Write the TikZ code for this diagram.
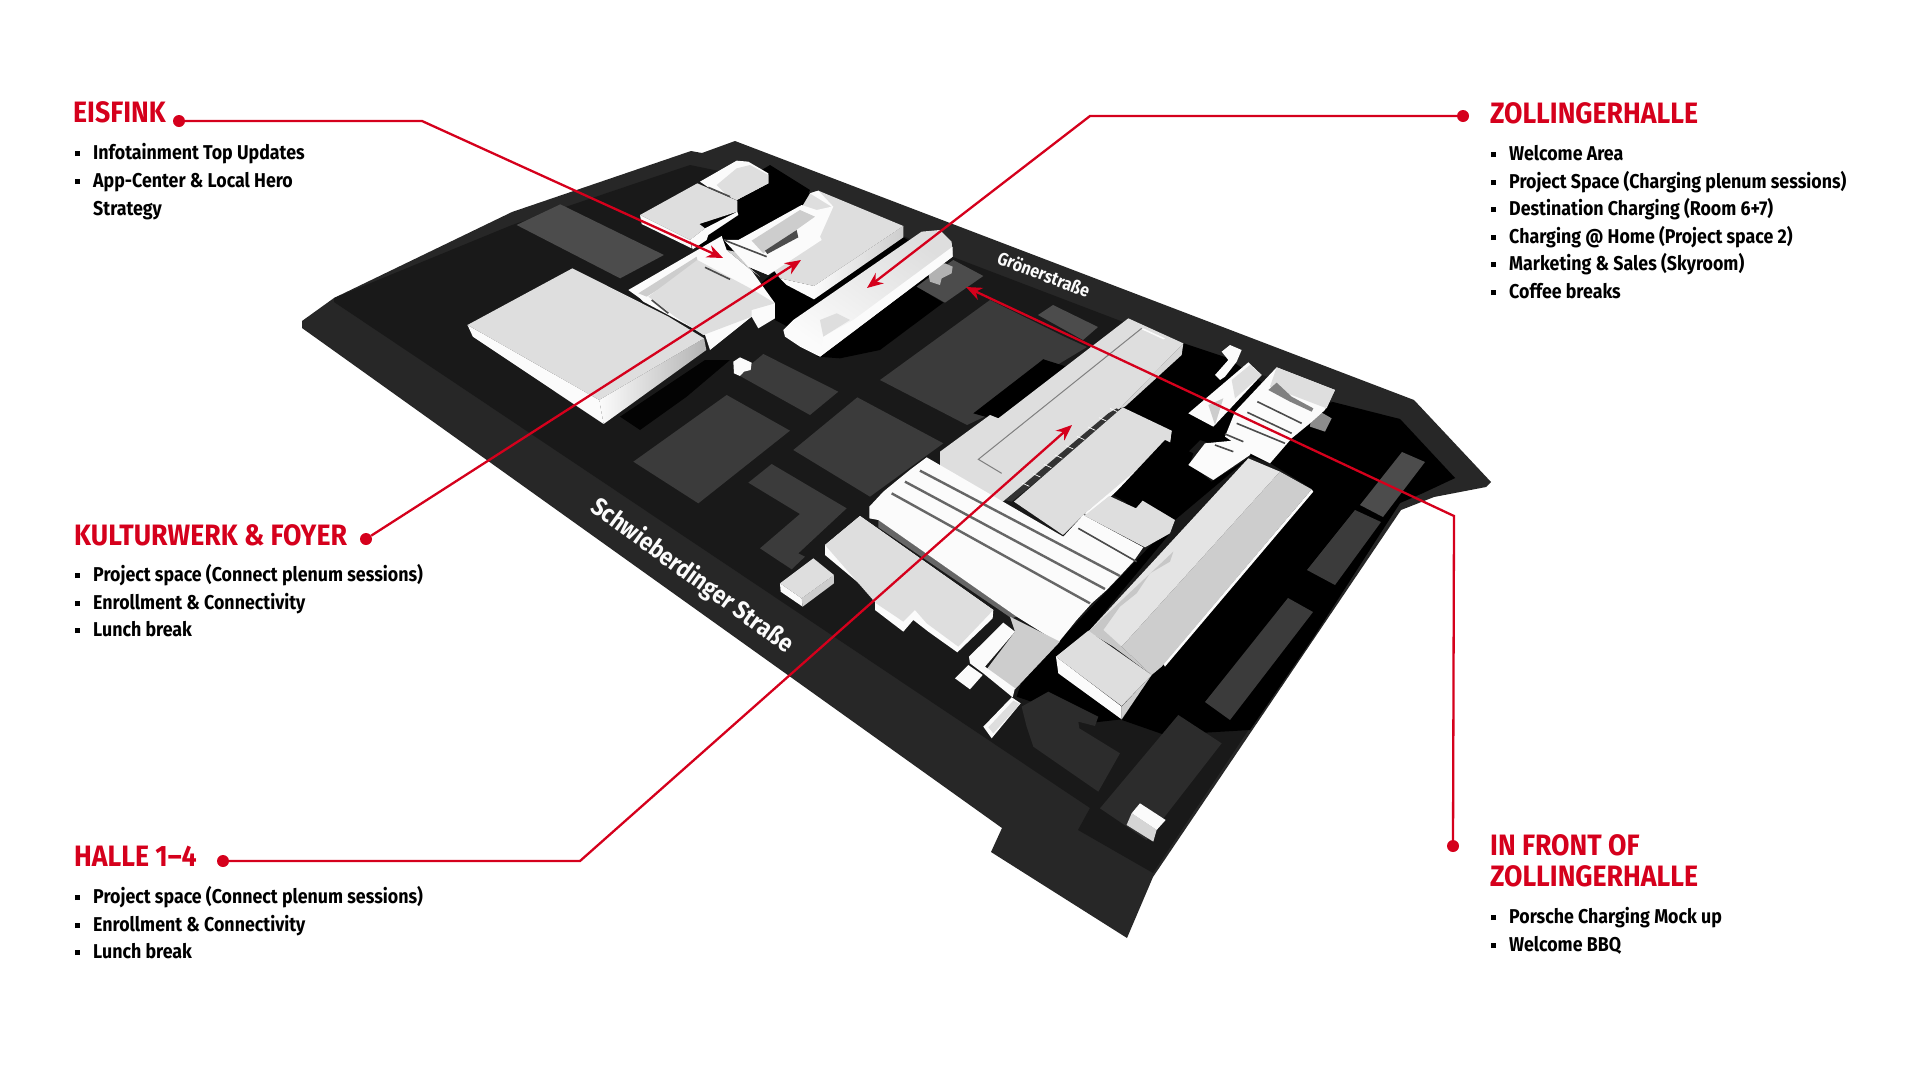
\documentclass[tikz,border=0pt]{standalone}
\usepackage{fontspec}
\setmainfont{Fira Sans}[FakeStretch=0.89]
\newfontfamily\headfont{Fira Sans}[FakeStretch=0.905]
\usetikzlibrary{arrows.meta}

\definecolor{signal}{HTML}{D5001C}
\definecolor{board}{HTML}{272727}
\definecolor{deck}{HTML}{191919}
\definecolor{lot}{HTML}{3B3B3B}
\definecolor{lotpale}{HTML}{4C4C4C}
\definecolor{lotdim}{HTML}{2C2C2C}
\definecolor{roof}{HTML}{DEDEDE}
\definecolor{roofdim}{HTML}{CDCDCD}
\definecolor{wall}{HTML}{FBFBFB}

\tikzstyle{lot}=[fill=lot]
\tikzstyle{rib}=[draw=black!60,line width=2.4pt]
\tikzstyle{ribthin}=[draw=black!70,line width=1.6pt]
\tikzstyle{wire}=[draw=signal,line width=2.3pt,-{Stealth[length=16pt,width=13pt]}]
\tikzstyle{dot}=[circle,fill=signal,inner sep=0pt,minimum size=12pt]
\tikzstyle{headline}=[anchor=base west,inner sep=0pt,text=signal,font=\headfont\bfseries\fontsize{29.5}{30}\selectfont]
\tikzstyle{entry}=[anchor=base west,inner sep=0pt,text=black,font=\bfseries\fontsize{20}{20}\selectfont]
\tikzstyle{street}=[text=wall,font=\bfseries\fontsize{25}{25}\selectfont]

\def\bul{\makebox[18pt][l]{\rule[3pt]{5pt}{5pt}}}
\def\nobul{\makebox[18pt][l]{}}

\begin{document}
\begin{tikzpicture}[x=1pt,y=-1pt]
    \useasboundingbox (0,0) rectangle (1920,1080);

    % the board
    \fill[board] (302,321) -- (334,298) -- (512,212) -- (691,151) -- (702,153) -- (735,141) -- (1414,400) -- (1491,482) -- (1486,487) -- (1434,497) -- (1401,510) -- (1153,877) -- (1127,938) -- (991,852) -- (1002,828) -- (302,328) -- cycle;
    \fill[deck] (334,302) -- (334,298) -- (512,225) -- (690,165) -- (777,183) -- (953,257) -- (1333,402) -- (1370,415) -- (1400,419) -- (1455,478) -- (1423,493) -- (1400,503) -- (1153,873) -- (1078,830) -- (1090,808) -- cycle;

    % shadows, in full coordinates
    \fill[black] (1183,343) -- (1228,358) -- (1300,410) -- (1333,402) -- (1400,419) -- (1455,478) -- (1423,493) -- (1400,503) -- (1315,635) -- (1250,730) -- (1165,735) -- (1122,720) -- (1155,670) -- (1312,489) -- (1270,463) -- (1200,440) -- (1120,520) -- cycle;
    \fill[black] (700,207) -- (770,165) -- (810,190) -- (780,250) -- (700,260) -- cycle;

    % cluster at the top
    \begin{scope}[shift={(620,150)},scale=0.3333]
        \fill[black] (210,290) -- (350,190) -- (445,100) -- (570,130) -- (480,350) -- (355,270) -- cycle;
        \fill[black] (400,420) -- (480,350) -- (582,448) -- (850,262) -- (900,290) -- (560,560) -- (465,510) -- cycle;
        \fill[black] (590,620) -- (998,320) -- (890,410) -- (970,458) -- (780,600) -- (660,625) -- cycle;
        \fill[lotpale] (890,410) -- (1000,330) -- (1090,378) -- (975,458) -- cycle;
        \fill[black!30] (925,370) -- (945,345) -- (975,340) -- (998,350) -- (995,370) -- (965,385) -- (960,405) -- (930,395) -- cycle;
        % block with the courtyard
        \fill[wall] (25,420) -- (305,258) -- (320,300) -- (395,362) -- (465,460) -- (465,505) -- (415,535) -- (395,500) -- (270,600) -- (255,555) -- (145,495) -- (70,455) -- (60,445) -- cycle;
        \fill[roofdim] (55,430) -- (230,320) -- (235,345) -- (80,440) -- cycle;
        \fill[roof] (85,440) -- (232,330) -- (400,420) -- (465,460) -- (395,480) -- (395,500) -- (250,555) -- (165,500) -- cycle;
        \draw[ribthin] (255,352) -- (330,388);
        \draw[ribthin] (95,450) -- (145,490);
        \fill[roofdim] (320,300) -- (345,305) -- (385,350) -- (420,380) -- (395,362) -- cycle;
        % block at the top
        \fill[wall] (60,195) -- (210,270) -- (215,295) -- (65,222) -- cycle;
        \fill[wall] (210,270) -- (255,235) -- (352,185) -- (355,195) -- (265,255) -- (260,270) -- (218,298) -- cycle;
        \fill[roof] (60,195) -- (232,100) -- (352,152) -- (352,185) -- (238,222) -- (255,235) -- (210,270) -- cycle;
        \fill[wall] (240,95) -- (350,32) -- (385,35) -- (445,70) -- (445,100) -- (350,150) -- (265,112) -- cycle;
        \fill[roof] (290,105) -- (350,55) -- (390,45) -- (445,75) -- (445,100) -- (350,150) -- (320,135) -- cycle;
        \draw[ribthin] (265,112) -- (330,140);
        % block with the wing
        \fill[wall] (480,385) -- (582,408) -- (582,448) -- (500,405) -- cycle;
        \shade[left color=wall,right color=roofdim] (582,408) -- (850,228) -- (850,262) -- (582,448) -- cycle;
        \fill[roof] (445,340) -- (570,130) -- (595,122) -- (850,228) -- (582,408) -- (480,385) -- cycle;
        \fill[wall] (355,270) -- (545,165) -- (590,180) -- (635,170) -- (570,130) -- (595,122) -- (640,170) -- (600,260) -- (605,270) -- (445,375) -- (385,350) -- (312,270) -- cycle;
        \fill[roofdim] (395,272) -- (540,180) -- (585,200) -- (430,310) -- cycle;
        \fill[black!70] (435,302) -- (530,240) -- (535,262) -- (442,312) -- cycle;
        \fill[wall] (312,270) -- (440,320) -- (445,375) -- (385,350) -- (345,305) -- cycle;
        \draw[ribthin] (312,270) -- (440,320);
        % barrel hall
        \shade[left color=wall,right color=roof,shading angle=145] (490,540) -- (520,510) -- (905,245) -- (960,240) -- (995,275) -- (998,320) -- (600,620) -- (540,590) -- (495,560) -- cycle;
        \fill[wall] (700,510) -- (998,290) -- (998,320) -- (600,620) -- (610,560) -- cycle;
        \fill[roof] (600,510) -- (650,490) -- (690,510) -- (610,560) -- cycle;
    \end{scope}

    % big hall on the left
    \begin{scope}[shift={(280,120)},xscale=0.4464,yscale=0.3333]
        \fill[lotpale] (530,315) -- (628,253) -- (860,405) -- (762,475) -- cycle;
        \fill[wall] (420,615) -- (715,840) -- (725,912) -- (432,650) -- cycle;
        \shade[left color=wall,right color=black!30] (715,840) -- (950,655) -- (955,690) -- (725,912) -- cycle;
        \fill[roof] (420,615) -- (655,445) -- (870,590) -- (950,655) -- (715,840) -- cycle;
    \end{scope}

    % plots on the board
    \begin{scope}[shift={(620,340)},scale=0.3333]
        \fill[black!90!deck] (0,230) -- (255,60) -- (330,60) -- (200,170) -- (60,270) -- cycle;
        \fill[lot] (40,365) -- (320,165) -- (510,272) -- (235,490) -- cycle;
        \fill[lot] (355,105) -- (430,42) -- (655,155) -- (570,225) -- cycle;
        \fill[lot] (520,330) -- (712,172) -- (970,310) -- (750,470) -- cycle;
        \fill[lot] (385,428) -- (455,372) -- (680,505) -- (535,640) -- (555,650) -- (515,688) -- (420,625) -- (540,522) -- cycle;
        \fill[wall] (480,730) -- (545,775) -- (548,800) -- (482,755) -- cycle;
        \fill[roofdim] (545,775) -- (642,705) -- (642,730) -- (548,800) -- cycle;
        \fill[roof] (480,730) -- (580,655) -- (642,705) -- (545,775) -- cycle;
        \fill[wall] (340,65) -- (360,52) -- (395,68) -- (392,90) -- (372,95) -- (360,108) -- (342,100) -- cycle;
    \end{scope}
    \fill[lot] (880,380) -- (990,300) -- (1065,337) -- (1087,347) -- (1057,365) -- (1043,359) -- (988,415) -- (967,425) -- cycle;
    \fill[lotpale] (1038,315) -- (1053,305) -- (1098,327) -- (1083,340) -- cycle;
    \fill[lotpale] (1360,505) -- (1402,452) -- (1425,462) -- (1383,517) -- cycle;
    \fill[lot] (1307,570) -- (1355,510) -- (1381,522) -- (1335,585) -- cycle;
    \fill[lot] (1205,702) -- (1288,598) -- (1313,612) -- (1230,720) -- cycle;

    % long hall
    \begin{scope}[shift={(940,300)},scale=0.3333]
        \fill[black] (540,325) -- (730,135) -- (860,175) -- (820,310) -- (760,340) -- (640,450) -- (440,650) -- cycle;
        \fill[black] (100,340) -- (310,178) -- (380,200) -- (170,360) -- cycle;
        \fill[roof] (0,455) -- (150,345) -- (175,355) -- (565,55) -- (730,130) -- (540,325) -- (195,600) -- (120,650) -- (0,590) -- cycle;
        \fill[wall!85!black] (730,130) -- (725,165) -- (555,320) -- (540,325) -- cycle;
        \fill[wall] (610,85) -- (675,115) -- (670,118) -- (605,88) -- cycle;
        \draw[black!50,line width=1pt] (605,85) -- (115,478) -- (185,520);
        \fill[black!80] (505,340) -- (530,325) -- (545,335) -- (215,605) -- (195,600) -- cycle;
        \foreach \n in {0,...,8}
            \draw[wall,line width=.7pt] (510-\n*33,325+\n*28) -- (532-\n*33,335+\n*28);
        \fill[wall] (695,392) -- (690,430) -- (445,650) -- (435,640) -- cycle;
        \fill[roof] (222,605) -- (548,322) -- (695,392) -- (690,425) -- (435,640) -- (369,705) -- cycle;
    \end{scope}

    % halls in the middle
    \begin{scope}[shift={(820,440)},scale=0.3333]
        \fill[black] (880,165) -- (1035,0) -- (1120,40) -- (1110,70) -- (1175,125) -- (1285,55) -- (1065,240) -- (968,182) -- (948,205) -- cycle;
        \fill[black] (720,600) -- (1065,240) -- (1050,280) -- (805,575) -- (708,650) -- (905,838) -- (800,850) -- (620,780) -- (590,770) -- (620,680) -- cycle;
        \fill[roof] (800,222) -- (868,168) -- (948,205) -- (968,182) -- (1065,240) -- (1050,280) -- (975,322) -- (790,225) -- cycle;
        % stepped block
        \fill[black!60] (175,240) -- (175,262) -- (575,535) -- (590,530) -- cycle;
        \fill[wall] (148,235) -- (148,200) -- (190,155) -- (235,118) -- (272,88) -- (320,52) -- (730,290) -- (790,225) -- (970,322) -- (940,365) -- (900,408) -- (860,450) -- (815,490) -- (770,540) -- (715,608) -- (590,530) -- (175,240) -- cycle;
        \draw[rib] (300,92) -- (900,408);
        \draw[rib] (255,125) -- (855,447);
        \draw[rib] (215,160) -- (810,490);
        \draw[ribthin] (775,265) -- (950,365);
        % front block
        \fill[wall] (15,315) -- (15,345) -- (165,470) -- (165,510) -- (250,575) -- (280,540) -- (325,575) -- (412,637) -- (518,535) -- (520,510) -- (120,228) -- cycle;
        \fill[roof] (15,315) -- (120,228) -- (520,510) -- (415,620) -- (320,550) -- (285,510) -- (250,545) -- (168,490) -- cycle;
        % block by the road
        \fill[roofdim] (500,688) -- (585,575) -- (570,530) -- (720,605) -- (585,748) -- cycle;
        \fill[wall] (447,650) -- (550,548) -- (585,575) -- (495,680) -- (585,745) -- (578,772) -- (490,700) -- (450,670) -- cycle;
        \fill[wall] (405,715) -- (445,675) -- (488,705) -- (450,748) -- cycle;
        \fill[wall] (490,860) -- (575,772) -- (602,790) -- (515,895) -- cycle;
        \fill[roof] (505,862) -- (580,782) -- (600,792) -- (520,880) -- cycle;
        % tall hall on the right
        \fill[wall] (1030,672) -- (1475,148) -- (1480,155) -- (1035,680) -- cycle;
        \fill[roof!80!white] (805,575) -- (1285,55) -- (1380,95) -- (905,620) -- cycle;
        \fill[roofdim] (905,620) -- (1380,95) -- (1475,148) -- (1025,680) -- (995,705) -- cycle;
        \fill[black!22] (805,575) -- (1060,335) -- (1050,365) -- (990,400) -- (950,460) -- (900,500) -- (850,570) -- (905,620) -- (995,705) -- (880,620) -- cycle;
        \fill[wall] (708,650) -- (905,800) -- (905,838) -- (715,700) -- cycle;
        \fill[roofdim] (905,800) -- (995,705) -- (905,838) -- cycle;
        \fill[roof] (708,650) -- (805,572) -- (995,705) -- (905,798) -- cycle;
    \end{scope}

    % small complex by the corner
    \begin{scope}[shift={(1170,330)},scale=0.3333]
        \fill[wall] (155,65) -- (180,45) -- (215,60) -- (200,95) -- (165,140) -- (150,150) -- (135,135) -- (175,90) -- cycle;
        \fill[wall] (55,250) -- (235,97) -- (275,135) -- (130,290) -- cycle;
        \fill[roof] (185,150) -- (240,105) -- (275,135) -- (195,205) -- cycle;
        \fill[roofdim] (115,225) -- (160,205) -- (135,285) -- cycle;
        \fill[black!45] (425,250) -- (450,245) -- (485,265) -- (465,305) -- (420,290) -- cycle;
        \fill[wall] (195,245) -- (320,112) -- (495,180) -- (465,240) -- (420,280) -- (365,325) -- (300,400) -- (240,370) -- (165,320) -- cycle;
        \fill[roof] (320,112) -- (495,180) -- (470,235) -- (365,195) -- (300,170) -- cycle;
        \fill[black!50] (295,180) -- (320,158) -- (365,200) -- (430,235) -- (425,245) -- (360,215) -- cycle;
        \draw[ribthin] (262,215) -- (395,280);
        \draw[ribthin] (232,247) -- (365,310);
        \draw[ribthin] (200,280) -- (345,340);
        \fill[wall] (55,405) -- (105,340) -- (210,330) -- (250,345) -- (240,375) -- (130,450) -- cycle;
        \draw[ribthin] (165,312) -- (220,335);
        \draw[ribthin] (135,345) -- (190,365);
    \end{scope}

    % plots at the bottom
    \begin{scope}[shift={(800,600)},scale=0.3333]
        \fill[lotdim] (665,320) -- (745,275) -- (895,350) -- (885,378) -- (835,365) -- (838,385) -- (960,460) -- (895,575) -- (700,440) -- (680,380) -- cycle;
        \fill[lotdim] (900,625) -- (1135,345) -- (1265,430) -- (1040,720) -- cycle;
        \fill[wall!85!black] (995,640) -- (1070,690) -- (1060,725) -- (980,675) -- cycle;
        \fill[wall] (1020,610) -- (1097,660) -- (1070,690) -- (995,640) -- cycle;
    \end{scope}

    % streets
    \node[street,rotate=-36] (schwieberdinger) at (692,576) {Schwieberdinger Straße};
    \node[street,rotate=-21,font=\bfseries\fontsize{18}{18}\selectfont] (groener) at (1044,274) {Grönerstraße};

    % labels on the left
    \node[headline] (eisfink) at (73,122) {EISFINK};
    \node[entry] (eisfinka) at (75,159) {\bul Infotainment Top Updates};
    \node[entry] (eisfinkb) at (75,187) {\bul App-Center \& Local Hero};
    \node[entry] (eisfinkc) at (75,215) {\nobul Strategy};

    \node[headline] (kulturwerk) at (74,545) {KULTURWERK \& FOYER};
    \node[entry] (kulturwerka) at (75,581) {\bul Project space (Connect plenum sessions)};
    \node[entry] (kulturwerkb) at (75,609) {\bul Enrollment \& Connectivity};
    \node[entry] (kulturwerkc) at (75,636) {\bul Lunch break};

    \node[headline] (halle) at (74,866) {HALLE 1–4};
    \node[entry] (hallea) at (75,903) {\bul Project space (Connect plenum sessions)};
    \node[entry] (halleb) at (75,931) {\bul Enrollment \& Connectivity};
    \node[entry] (hallec) at (75,958) {\bul Lunch break};

    % labels on the right
    \node[headline] (zollinger) at (1490,123) {ZOLLINGERHALLE};
    \node[entry] (zollingera) at (1491,160) {\bul Welcome Area};
    \node[entry] (zollingerb) at (1491,188) {\bul Project Space (Charging plenum sessions)};
    \node[entry] (zollingerc) at (1491,215) {\bul Destination Charging (Room 6+7)};
    \node[entry] (zollingerd) at (1491,243) {\bul Charging @ Home (Project space 2)};
    \node[entry] (zollingere) at (1491,270) {\bul Marketing \& Sales (Skyroom)};
    \node[entry] (zollingerf) at (1491,298) {\bul Coffee breaks};

    \node[headline] (infront) at (1490,855) {IN FRONT OF};
    \node[headline] (infrontb) at (1490,886) {ZOLLINGERHALLE};
    \node[entry] (infronta) at (1491,923) {\bul Porsche Charging Mock up};
    \node[entry] (infrontc) at (1491,951) {\bul Welcome BBQ};

    % connectors
    \node[dot] (eisfinkdot) at (179,121) {};
    \coordinate (eisfinkbend) at (422,121);
    \coordinate (eisfinktip) at (723,258);
    \draw[wire] (eisfinkdot) -- (eisfinkbend) -- (eisfinktip);

    \node[dot] (kulturwerkdot) at (366,539) {};
    \coordinate (kulturwerktip) at (801,260);
    \draw[wire] (kulturwerkdot) -- (kulturwerktip);

    \node[dot] (halledot) at (223,861) {};
    \coordinate (hallebend) at (580,861);
    \coordinate (halletip) at (1072,425);
    \draw[wire] (halledot) -- (hallebend) -- (halletip);

    \node[dot] (zollingerdot) at (1463,116) {};
    \coordinate (zollingerbend) at (1090,116);
    \coordinate (zollingertip) at (867,288);
    \draw[wire] (zollingerdot) -- (zollingerbend) -- (zollingertip);

    \node[dot] (infrontdot) at (1453,846) {};
    \coordinate (infrontbend) at (1454,516);
    \coordinate (infronttip) at (966,287);
    \draw[wire] (infrontdot) -- (infrontbend) -- (infronttip);

\end{tikzpicture}
\end{document}
